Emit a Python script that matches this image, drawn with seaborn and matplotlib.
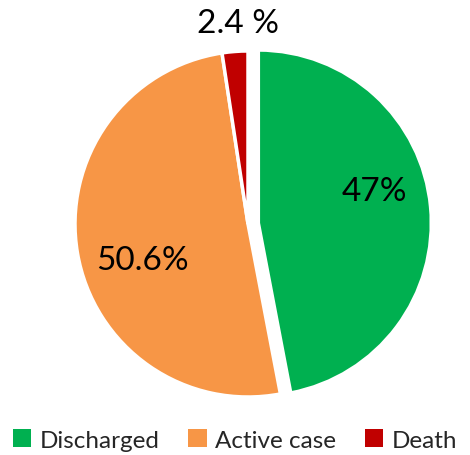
import numpy as np
import seaborn as sns
import matplotlib.pyplot as plt
from matplotlib.patches import Patch

sns.set_theme(style="white")
plt.rcParams['font.family'] = ['Lato', 'DejaVu Sans']

# data
categories = ['Discharged', 'Active case', 'Death']
values = [47.0, 50.6, 2.4]
pct_labels = ['47%', '50.6%', '2.4 %']
colors = ['#00B050', '#F79646', '#C00000']

fig = plt.figure(figsize=(4.70, 4.56), dpi=100)
# square axes around pie centre (in pixels: x=248, y=231 from bottom, r=173)
ax = fig.add_axes([75 / 470, 58 / 456, 346 / 470, 346 / 456])

wedges, _ = ax.pie(values, colors=colors, startangle=90, counterclock=False,
                   explode=[0.06, 0, 0], radius=1,
                   wedgeprops=dict(edgecolor='white', linewidth=2.5))
for w in wedges:
    w.set_clip_on(False)
ax.set_xlim(-1, 1)
ax.set_ylim(-1, 1)
ax.axis('off')

# label positions (data coords)
label_pos = [(0.73, 0.19), (-0.61, -0.21), (-0.06, 1.16)]
for txt, (x, y) in zip(pct_labels, label_pos):
    ax.text(x, y, txt, ha='center', va='center', fontsize=24, color='black')

handles = [Patch(facecolor=c, edgecolor='none') for c in colors]
fig.legend(handles, categories, loc='center', bbox_to_anchor=(0.5, 15 / 456),
           ncol=3, frameon=False, fontsize=17.5, handlelength=0.75, handleheight=0.75,
           handletextpad=0.35, columnspacing=1.2)

fig.savefig('out.png', dpi=100)
